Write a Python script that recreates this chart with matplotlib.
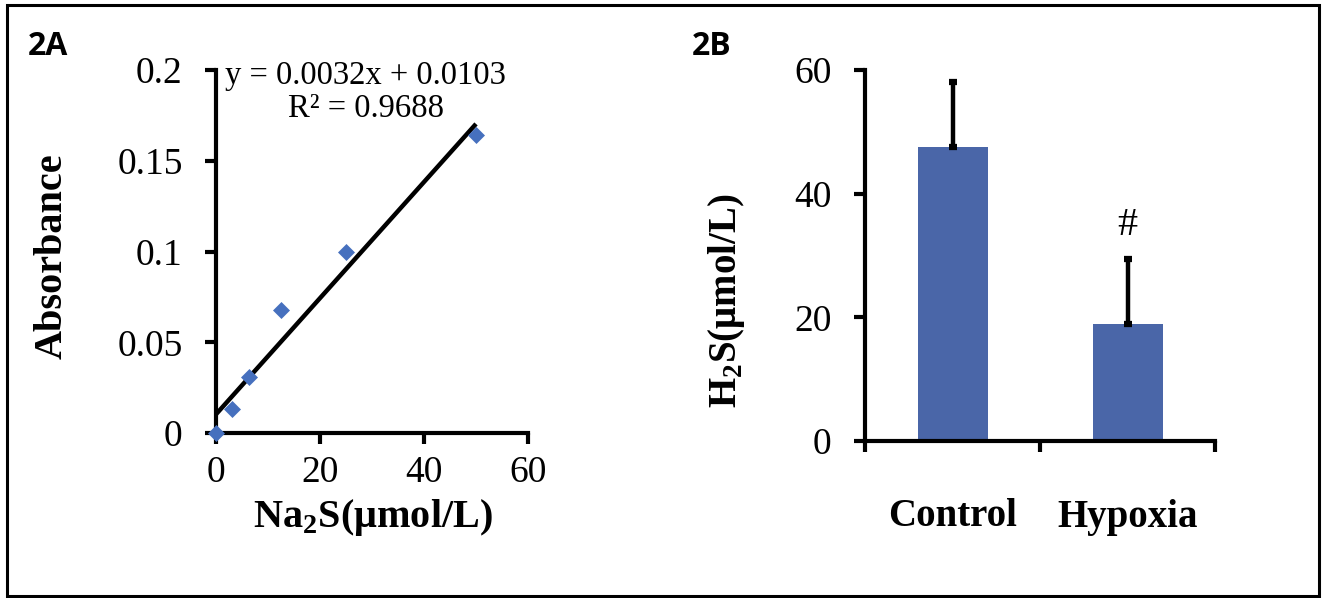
import matplotlib
matplotlib.use("Agg")
import matplotlib.pyplot as plt
from matplotlib.patches import Rectangle
import numpy as np

# ---- Data ----
na2s_conc = [0, 3.125, 6.25, 12.5, 25, 50]
absorbance = [0.0, 0.013, 0.031, 0.068, 0.100, 0.164]
fit_slope = 0.0032
fit_intercept = 0.0103
fit_r2 = 0.9688

groups = ["Control", "Hypoxia"]
h2s_mean = [47.6, 19.0]
h2s_err = [10.5, 10.4]

a_xticks = [0, 20, 40, 60]
a_yticks = [0, 0.05, 0.1, 0.15, 0.2]
a_yticklabels = ["0", "0.05", "0.1", "0.15", "0.2"]
b_yticks = [0, 20, 40, 60]

plt.rcParams["mathtext.fontset"] = "custom"
plt.rcParams["mathtext.rm"] = "Liberation Serif"
plt.rcParams["mathtext.bf"] = "Liberation Serif:bold"
plt.rcParams["font.family"] = ["Liberation Serif", "DejaVu Serif"]

W, H = 1325, 598
fig = plt.figure(figsize=(W / 100, H / 100), dpi=100)

def fx(px):
    return px / W

def fy(py):
    return 1 - py / H

BLUE = "#4A66A8"
SPW = 3.0
TICKFS = 27

# outer frame
fig.patches.append(Rectangle((fx(7), fy(596)), fx(1319) - fx(7), fy(5) - fy(596),
                             transform=fig.transFigure, fill=False,
                             edgecolor="black", linewidth=2.2))

# ---- Panel A ----
axA = fig.add_axes([fx(216), fy(433), fx(528) - fx(216), fy(70) - fy(433)])
xs = np.array([min(na2s_conc), max(na2s_conc)])
axA.plot(xs, fit_slope * xs + fit_intercept, color="black", lw=3.2, zorder=2,
         solid_capstyle="butt")
axA.scatter(na2s_conc, absorbance, marker="D", s=75, color="#4670BE",
            zorder=3, clip_on=False, linewidths=0)
axA.set_xlim(0, 60)
axA.set_ylim(0, 0.2)
axA.set_xticks(a_xticks)
axA.set_yticks(a_yticks)
axA.set_yticklabels(a_yticklabels)
for s in ["top", "right"]:
    axA.spines[s].set_visible(False)
for s in ["left", "bottom"]:
    axA.spines[s].set_linewidth(SPW)
axA.tick_params(axis="both", direction="out", width=SPW, length=8,
                labelsize=TICKFS, pad=8)
axA.tick_params(axis="y", pad=16)
fig.text(fx(52), fy(256), "Absorbance", rotation=90, fontsize=29,
         fontweight="bold", ha="center", va="center")
fig.text(fx(373), fy(518), r"Na$_{\mathbf{2}}$S(μmol/L)", fontsize=29,
         fontweight="bold", ha="center", va="center")
axA.text(28.8, 0.197, "y = 0.%04dx + 0.%04d" % (round(fit_slope * 1e4), round(fit_intercept * 1e4)),
         ha="center", va="center", fontsize=23.5)
axA.text(28.8, 0.1785, "R² = %.4f" % fit_r2,
         ha="center", va="center", fontsize=23.5)

fig.text(fx(28), fy(55), "2A", fontsize=23, fontweight="bold",
         family=["Open Sans", "DejaVu Sans"], ha="left", va="baseline")
fig.text(fx(692), fy(55), "2B", fontsize=23, fontweight="bold",
         family=["Open Sans", "DejaVu Sans"], ha="left", va="baseline")

# ---- Panel B ----
axB = fig.add_axes([fx(865), fy(441), fx(1215) - fx(865), fy(70) - fy(441)])
pos = np.arange(len(groups))
axB.bar(pos, h2s_mean, width=0.4, color=BLUE, zorder=2)
axB.errorbar(pos, h2s_mean, yerr=[np.zeros(len(groups)), h2s_err], fmt="none",
             ecolor="black", elinewidth=3.2, capsize=3, capthick=4.5, zorder=3)
axB.set_xlim(-0.5, 1.5)
axB.set_ylim(0, 60)
axB.set_yticks(b_yticks)
axB.set_xticks([-0.5, 0.5, 1.5])
axB.set_xticklabels([])
for s in ["top", "right"]:
    axB.spines[s].set_visible(False)
for s in ["left", "bottom"]:
    axB.spines[s].set_linewidth(SPW)
axB.tick_params(axis="both", direction="out", width=SPW, length=8,
                labelsize=TICKFS)
axB.tick_params(axis="y", pad=16)
for p, g in zip(pos, groups):
    axB.text(p, fy(517), g, transform=axB.get_xaxis_transform(), ha="center",
             va="center", fontsize=28, fontweight="bold")
# place category labels in figure coords (y) via blended transform
axB.texts[-1].set_transform(matplotlib.transforms.blended_transform_factory(axB.transData, fig.transFigure))
axB.texts[-2].set_transform(matplotlib.transforms.blended_transform_factory(axB.transData, fig.transFigure))
axB.text(pos[1], h2s_mean[1] + h2s_err[1] + 5.4, "#", ha="center", va="center",
         fontsize=29)
fig.text(fx(727), fy(301), r"H$_{\mathbf{2}}$S(μmol/L)", rotation=90, fontsize=28,
         fontweight="bold", ha="center", va="center")

fig.savefig("out.png", dpi=100)
